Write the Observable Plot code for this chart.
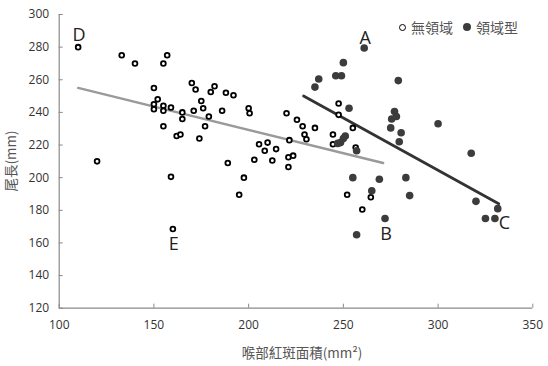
<!DOCTYPE html>
<html>
<head>
<meta charset="utf-8">
<script src="https://cdn.jsdelivr.net/npm/d3@7"></script>
<script src="https://cdn.jsdelivr.net/npm/@observablehq/plot@0.6"></script>
<style>
  html, body { margin: 0; padding: 0; background: #fff; }
  #wrap { position: relative; width: 548px; height: 366px; }
  .legend { position: absolute; top: 17px; left: 399px; font: 14px "Noto Sans CJK TC", sans-serif; color: #555; display: flex; align-items: center; gap: 0; }
  .legend .sw { display: inline-block; box-sizing: border-box; border-radius: 50%; margin-right: 5px; }
  .legend .item { display: flex; align-items: center; margin-right: 10px; }
</style>
</head>
<body>
<div id="wrap">
  <div class="legend">
    <span class="item"><span class="sw" style="width:7px;height:7px;border:1.8px solid #000;background:#fff"></span>無領域</span>
    <span class="item"><span class="sw" style="width:8px;height:8px;background:#3c3c3c"></span>領域型</span>
  </div>
</div>
<script>
// 無領域 (open circles)
const noneX = [110,120,133,140,155,157,150,152,150,150,155,155,159,155,162,164,165,165,170,172,175,176,171,179,177,174,182,180,188,192,186,200,200.5,205.5,203,189,159,197.5,160,195,220,225.5,228.5,235,229.5,230.5,221.5,210,208.5,214.5,212.5,221,223.5,221,247.5,247.5,255,244.5,244.5,256.5,252,260,264.5];
const noneY = [280,210,275,270,270,275,255,248,245,242,244,241,243,231.5,225.5,226.5,240,236,258,254,247,242.5,241,237.5,231.5,224,256,252.5,252,250.5,241,242.5,239.5,220.5,211,209,200.5,200,168.5,189.5,239.5,235.5,231.5,230.5,226.5,223.5,223,221.5,216.5,217.5,210.5,212.5,213.5,206.5,245.5,238.5,230.5,226.5,220.5,218.5,189.5,180.5,188];
// 領域型 (filled circles)
const terrX = [261,250,246,249,237,235,253,279,277,278,275.5,275,280.5,279.5,251,250,248.5,247,257,255,269,283,285,265,272,257,300,317.5,320,331.5,325,330];
const terrY = [279.5,270.5,262.5,262.5,260.5,255.5,242.5,259.5,240.5,237.5,236,230.5,227.5,222,225.5,224,221.5,221,216.5,200,199,200,189,192,175,165,233,215,185.5,181,175,175];
// trend lines (endpoints)
const trendNoneX = [110, 271], trendNoneY = [255, 209];
const trendTerrX = [229, 332], trendTerrY = [250, 184];
// point labels
const labelText = ["A","B","C","D","E"];
const labelX = [261.5, 272.5, 335, 110.5, 160.5];
const labelY = [285.5, 165.5, 172, 287, 159];
const xTicks = [100,150,200,250,300,350];
const yTicks = [120,140,160,180,200,220,240,260,280,300];

const none = noneX.map((x,i)=>({x, y: noneY[i]}));
const terr = terrX.map((x,i)=>({x, y: terrY[i]}));
const tNone = trendNoneX.map((x,i)=>({x, y: trendNoneY[i]}));
const tTerr = trendTerrX.map((x,i)=>({x, y: trendTerrY[i]}));
const labels = labelText.map((t,i)=>({t, x: labelX[i], y: labelY[i]}));

const chart = Plot.plot({
  width: 548, height: 366,
  marginLeft: 58.7, marginRight: 15.7, marginTop: 14, marginBottom: 58.3,
  style: {fontFamily: "'Open Sans', sans-serif", background: "#fff", overflow: "visible"},
  x: {domain: [100, 350]},
  y: {domain: [120, 300]},
  marks: [
    Plot.ruleX([100], {stroke: "#8a8a8a", strokeWidth: 1.2}),
    Plot.ruleY([120], {stroke: "#8a8a8a", strokeWidth: 1.2}),
    Plot.axisX({ticks: xTicks, tickSize: -4, tickPadding: 16, stroke: "#8a8a8a", fill: "#333", fontSize: 12, label: null}),
    Plot.axisY({ticks: yTicks, tickSize: -4, tickPadding: 14, stroke: "#8a8a8a", fill: "#333", fontSize: 12, label: null}),
    Plot.line(tNone, {x: "x", y: "y", stroke: "#9a9a9a", strokeWidth: 2.4}),
    Plot.line(tTerr, {x: "x", y: "y", stroke: "#333", strokeWidth: 2.8}),
    Plot.dot(none, {x: "x", y: "y", r: 2.4, stroke: "#000", strokeWidth: 1.8, fill: "#fff"}),
    Plot.dot(terr, {x: "x", y: "y", r: 3.8, fill: "#3c3c3c", stroke: "none"}),
    Plot.text(labels, {x: "x", y: "y", text: "t", fontSize: 18, fill: "#222", fontFamily: "'Open Sans', sans-serif"})
  ]
});
const wrap = document.getElementById("wrap");
wrap.insertBefore(chart, wrap.firstChild);
const svg = d3.select(chart);
svg.append("text").attr("x", 302).attr("y", 358).attr("text-anchor", "middle")
  .style("font", "13.5px 'Noto Sans CJK TC', sans-serif").attr("fill", "#555").text("喉部紅斑面積(mm²)");
svg.append("text").attr("transform", "translate(16,161) rotate(-90)").attr("text-anchor", "middle")
  .style("font", "13.5px 'Noto Sans CJK TC', sans-serif").attr("fill", "#555").text("尾長(mm)");
</script>
</body>
</html>
